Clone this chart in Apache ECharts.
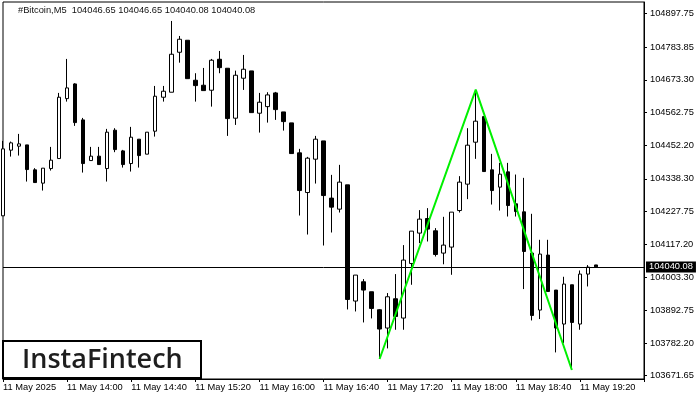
<!DOCTYPE html>
<html>
<head>
<meta charset="utf-8">
<script src="https://cdn.jsdelivr.net/npm/echarts@6/dist/echarts.min.js"></script>
<style>html,body{margin:0;padding:0;background:#fff}#c{width:700px;height:400px}</style>
</head>
<body>
<div id="c"></div>
<script>
// ---- data ----
const startTime = '13:20';      // first candle time
const slotCount = 81;           // category slots on the x axis (incl. empty future slots)
// each candle: [open, close, low, high]
const opens  = [104212.9,104435.1,104448.6,104453.0,104368.5,104323.5,104372.9,104406.7,104609.6,104659.3,
                104537.6,104399.9,104414.8,104372.9,104502.7,104432.7,104389.8,104472.3,104421.6,104499.3,
                104614.3,104631.2,104766.5,104807.1,104671.8,104654.9,104638.0,104742.8,104712.4,104543.3,
                104678.6,104703.3,104560.2,104582.5,104628.9,104564.6,104527.4,104426.0,104291.7,104404.6,
                104466.5,104272.8,104235.5,104317.7,103924.4,103989.7,103955.9,103895.0,103833.1,103932.2,
                103866.9,104051.6,104154.4,104203.8,104162.2,104086.7,104107.0,104230.8,104320.1,104462.1,
                104548.7,104368.5,104310.0,104361.7,104253.5,104226.4,104086.7,103894.0,104080.0,103961.6,
                103846.6,103979.5,103846.6,104015.7,104046.65];
const closes = [104439.5,104459.8,104456.4,104369.5,104325.5,104374.2,104401.3,104614.3,104645.8,104528.4,
                104389.8,104414.8,104386.4,104496.0,104437.1,104386.4,104479.0,104416.8,104496.0,104617.7,
                104634.6,104759.8,104810.5,104677.2,104653.6,104636.7,104739.5,104714.4,104542.0,104688.7,
                104709.0,104562.2,104597.4,104622.1,104572.4,104531.8,104423.6,104298.4,104408.0,104472.3,
                104281.5,104242.3,104326.9,103929.8,104012.3,103961.6,103899.4,103829.7,103938.9,103872.3,
                104063.1,104161.1,104201.7,104167.9,104082.0,104113.8,104225.4,104326.9,104452.0,104533.2,
                104362.7,104298.4,104353.9,104247.7,104227.4,104092.2,103875.7,104083.4,103956.9,103833.1,
                103981.9,103852.0,104015.7,104039.4,104040.08];
const lows   = [104212.9,104413.4,104416.8,104328.9,104324.5,104298.4,104366.1,104406.7,104599.5,104517.3,
                104359.3,104399.9,104386.4,104328.9,104428.3,104376.2,104362.7,104376.2,104421.6,104481.1,
                104599.5,104631.2,104731.3,104677.2,104599.5,104636.7,104582.5,104695.5,104483.4,104520.6,
                104639.0,104562.2,104494.6,104528.4,104537.6,104501.4,104423.6,104213.9,104149.6,104322.1,
                104112.4,104156.4,104224.1,103896.0,103889.2,103852.0,103865.6,103728.3,103764.1,103827.3,
                103827.3,103979.5,104120.6,104126.0,104075.2,104048.9,104013.3,104224.1,104269.4,104405.7,
                104362.7,104251.1,104230.8,104210.5,104210.5,103965.0,103858.8,103863.5,103956.9,103750.6,
                103782.4,103692.1,103827.3,103973.8,104040.08];
const highs  = [104466.5,104464.2,104490.2,104453.0,104374.2,104374.2,104446.2,104628.9,104743.9,104661.7,
                104544.3,104446.2,104446.2,104507.1,104509.5,104436.1,104513.9,104472.3,104496.0,104652.5,
                104652.5,104872.4,104821.6,104807.1,104695.5,104713.4,104743.9,104770.9,104712.4,104704.3,
                104757.4,104703.3,104628.9,104631.2,104632.3,104564.6,104527.4,104439.5,104412.4,104483.4,
                104466.5,104351.5,104385.4,104317.7,104012.3,103998.8,103955.9,103897.4,103951.5,104015.7,
                104113.8,104161.1,104232.2,104238.9,104171.3,104209.5,104225.4,104347.2,104509.5,104639.0,
                104548.7,104422.6,104392.1,104392.1,104352.6,104341.4,104219.7,104131.7,104131.7,103961.6,
                104006.6,103979.5,104027.9,104046.2,104046.65];
// double-top pattern points (candle index, price)
const patternIdx = [47, 59, 71];
const patternVal = [103728.3, 104640.0, 103691.1];
// price axis tick labels
const yTicks = [103671.65,103782.20,103892.75,104003.30,104117.20,104227.75,104338.30,104452.20,104562.75,104673.30,104783.85,104897.75];
const lastPrice = 104040.08;
const titleText = '#Bitcoin,M5  104046.65 104046.65 104040.08 104040.08';

// ---- build ----
const cats = [];
{
  let [h, m] = startTime.split(':').map(Number);
  for (let i = 0; i < slotCount; i++) {
    cats.push(String(h).padStart(2,'0') + ':' + String(m).padStart(2,'0'));
    m += 5; if (m >= 60) { m -= 60; h += 1; }
  }
}
const candles = opens.map((o, i) => [o, closes[i], lows[i], highs[i]]);
const patternData = patternIdx.map((i, k) => [i, patternVal[k]]);
const FONT = 'Liberation Sans';

const chart = echarts.init(document.getElementById('c'), null, {renderer: 'canvas'});
chart.setOption({
  animation: false,
  backgroundColor: '#fff',
  grid: {left: 2, right: 56, top: 2, bottom: 21, show: true, borderColor: '#000', borderWidth: 1, backgroundColor: 'transparent'},
  xAxis: {
    type: 'category', data: cats, boundaryGap: false,
    axisLine: {show: true, lineStyle: {color: '#000', width: 1}},
    axisTick: {show: true, interval: 7, length: 3, lineStyle: {color: '#000'}},
    axisLabel: {
      interval: 7, align: 'left', margin: 4, color: '#000', fontSize: 9.3, fontFamily: FONT,
      formatter: (v, idx) => idx === 0 ? '11 May 2025' : (idx > 76 ? '' : '11 May ' + v)
    },
    splitLine: {show: false}
  },
  yAxis: {
    type: 'value', position: 'right', min: 103660.6, max: 104936.6, scale: true,
    axisLine: {show: true, lineStyle: {color: '#000', width: 1}},
    axisTick: {show: true, length: 3, customValues: yTicks, lineStyle: {color: '#000'}},
    axisLabel: {customValues: yTicks, margin: 6, color: '#000', fontSize: 9.3, fontFamily: FONT,
      formatter: v => v.toFixed(2)},
    splitLine: {show: false}
  },
  series: [
    {
      type: 'candlestick', data: candles, barWidth: 4,
      itemStyle: {color: '#fff', color0: '#000', borderColor: '#000', borderColor0: '#000', borderWidth: 1},
      emphasis: {disabled: true},
      markLine: {
        silent: true, symbol: ['none','none'], animation: false,
        lineStyle: {color: '#000', width: 1, type: 'solid'},
        label: {show: true, position: 'end', distance: 2, formatter: () => lastPrice.toFixed(2),
          backgroundColor: '#000', color: '#fff', fontSize: 9.3, fontFamily: FONT, padding: [1, 3, 1, 3]},
        data: [{yAxis: lastPrice}]
      }
    },
    {
      type: 'line', data: patternData, symbol: 'none', silent: true,
      lineStyle: {color: '#00f000', width: 2}, z: 5
    }
  ],
  graphic: [
    {type: 'text', left: 18, top: 6, style: {text: titleText, fill: '#111', font: '9.3px "Liberation Sans"'}},
    {type: 'rect', shape: {x: 3, y: 341, width: 198, height: 37}, style: {fill: '#fff', stroke: '#000', lineWidth: 2}, z: 10},
    {type: 'text', x: 22, y: 360, style: {text: 'InstaFintech', fill: '#1e1e1e', font: '600 27px "Open Sans"', verticalAlign: 'middle'}, z: 11}
  ]
});
</script>
</body>
</html>
